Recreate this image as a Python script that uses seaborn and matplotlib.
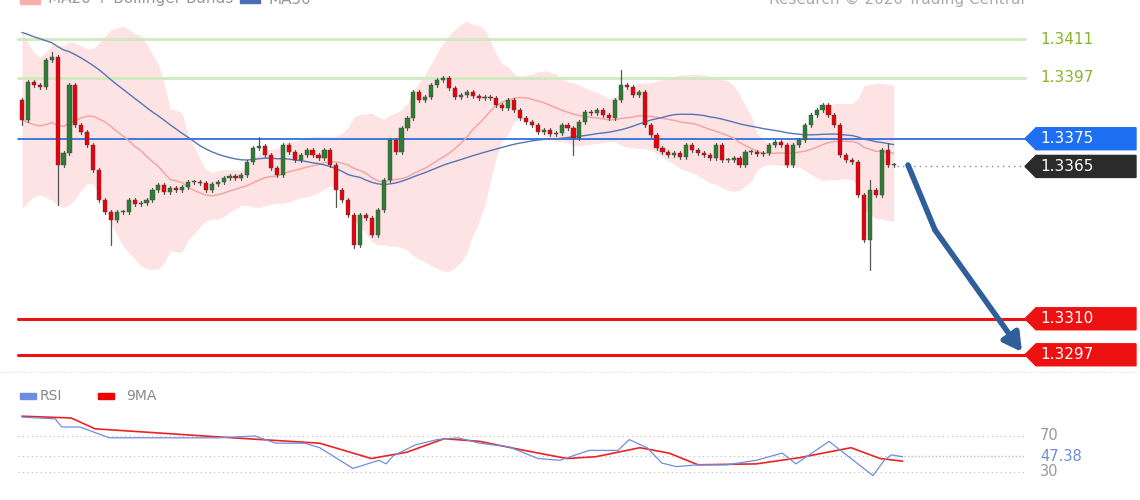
import numpy as np
import pandas as pd
import matplotlib
matplotlib.use("Agg")
import matplotlib.pyplot as plt
import seaborn as sns
from matplotlib.patches import Polygon

sns.set_theme(style="white")
plt.rcParams['font.family'] = ['DejaVu Sans']

# ---------------- data ----------------
first_open = 1.33890
closes = [1.33818,1.33955,1.33944,1.33937,1.34034,1.34045,1.33655,1.33698,1.33944,1.33800,
          1.33774,1.33727,1.33637,1.33529,1.33485,1.33457,1.33485,1.33485,1.33529,1.33514,
          1.33518,1.33529,1.33565,1.33583,1.33558,1.33572,1.33565,1.33576,1.33594,1.33594,
          1.33590,1.33565,1.33587,1.33594,1.33608,1.33615,1.33608,1.33619,1.33666,1.33717,
          1.33724,1.33691,1.33644,1.33619,1.33727,1.33702,1.33673,1.33691,1.33709,1.33691,
          1.33680,1.33709,1.33655,1.33565,1.33529,1.33475,1.33366,1.33475,1.33464,1.33402,
          1.33493,1.33601,1.33745,1.33702,1.33789,1.33825,1.33919,1.33890,1.33901,1.33944,
          1.33962,1.33969,1.33933,1.33901,1.33908,1.33919,1.33904,1.33897,1.33901,1.33897,
          1.33872,1.33861,1.33890,1.33854,1.33825,1.33810,1.33800,1.33774,1.33781,1.33767,
          1.33771,1.33800,1.33789,1.33753,1.33810,1.33846,1.33843,1.33854,1.33836,1.33825,
          1.33890,1.33944,1.33937,1.33908,1.33919,1.33800,1.33763,1.33717,1.33702,1.33691,
          1.33698,1.33684,1.33727,1.33709,1.33698,1.33691,1.33680,1.33727,1.33673,1.33673,
          1.33680,1.33655,1.33702,1.33702,1.33695,1.33698,1.33727,1.33738,1.33727,1.33655,
          1.33727,1.33745,1.33800,1.33836,1.33854,1.33872,1.33836,1.33800,1.33691,1.33673,
          1.33666,1.33547,1.33384,1.33565,1.33547,1.33709,1.33655,1.33655]
# earlier closes (before visible window) feeding the moving averages
prior_closes = [1.3432,1.3436,1.3430,1.3438,1.3440,1.3435,1.3431,1.3428,1.3434,1.3437,
                1.3439,1.3433,1.3429,1.3436,1.3440,1.3434,1.3430,1.3437,1.3435,1.3432,
                1.3438,1.3436,1.3431,1.3434,1.3439,1.3433,1.3435,1.3430,1.3436,1.3434,
                1.3415,1.3410,1.3402,1.3395,1.3390,1.3385,1.3378,1.3370,1.3362,1.3358,
                1.3360,1.3365,1.3372,1.3370,1.3378,1.3385,1.3380,1.3388,1.3392]
special_highs = {5: 1.34063, 40: 1.33756, 101: 1.33998, 143: 1.33601, 146: 1.33734}
special_lows = {0: 1.33800, 6: 1.33511, 15: 1.33366, 53: 1.33504, 56: 1.33355,
                93: 1.33691, 143: 1.33276}

levels_green = [1.3411, 1.3397]
level_blue = 1.3375
level_last = 1.3365
levels_red = [1.3310, 1.3297]

rsi_idx = [0,5.6,6.7,9.8,14.7,20.7,33.1,39.3,42.8,47.7,50.2,55.8,60.2,61.4,62.6,66.3,70.0,
           73.5,77.2,82.1,87.0,90.7,95.6,100.5,102.4,105.4,107.9,110.3,114.0,118.9,123.8,
           128.2,130.5,136.1,139.8,143.5,145.4,146.6,148.5]
rsi_val = [91,89,80,80,68,68,68,70,62,62,57,34,43,39,48,60,66,68,62,58,45,43,54,54,66,57,40,
           36,38,38,43,51,39,64,45,26,43,49,47]
ma9_idx = [0,8.3,12.3,33.1,50.2,58.9,64.9,71.2,77.2,84.7,91.9,96.8,104.2,109.1,114.0,123.8,
           131.2,139.8,144.7,148.5]
ma9_val = [92,90,78,69,62,45,52,67,64,54,45,47,57,51,38,39,46,57,45,42]
rsi_last = 47.38

# ---------------- prep ----------------
closes = np.array(closes)
n = len(closes)
opens = np.concatenate([[first_open], closes[:-1]])
wick = 0.00008
highs = np.maximum(opens, closes) + wick
lows = np.minimum(opens, closes) - wick
for k, v in special_highs.items():
    highs[k] = v
for k, v in special_lows.items():
    lows[k] = v
idx = np.arange(n)

full = pd.Series(np.concatenate([prior_closes, closes]))
m20 = full.rolling(20).mean().values[-n:]
sd20 = full.rolling(20).std().values[-n:]
m50 = full.rolling(50, min_periods=1).mean().values[-n:]
up, dn = m20 + 2 * sd20, m20 - 2 * sd20

W, H = 1140, 500
fig = plt.figure(figsize=(W / 100, H / 100), dpi=100)
fig.patch.set_facecolor("white")
x0, dx = 22, 5.93
def px(x):
    return (x - x0) / dx
xlim = (px(0), px(W))
ppp = 27700.0  # pixels per unit price
def py(y):
    return 1.3411 - (y - 39) / ppp

ax = fig.add_axes([0, 130 / H, 1, 370 / H])
ax.axis("off")

# bands & MAs
ax.fill_between(idx, dn, up, color="#fde3e3", lw=0, zorder=1)
sns.lineplot(x=idx, y=m20, ax=ax, color="#f4a0a0", lw=1, zorder=3)
sns.lineplot(x=idx, y=m50, ax=ax, color="#5574b8", lw=1, zorder=3)

# levels
L, R = px(18), px(1025)
for lv in levels_green:
    ax.plot([L, R], [lv, lv], color="#d2e8bf", lw=2, zorder=2)
    ax.text(px(1040), lv, f"{lv:.4f}", color="#86b42a", fontsize=11, va="center")
ax.plot([L, R], [level_blue, level_blue], color="#2d6fe0", lw=1.3, zorder=2)
for lv in levels_red:
    ax.plot([L, R], [lv, lv], color="#ee1111", lw=2.2, zorder=2)
ax.plot([n - 0.5, px(1028)], [level_last] * 2, color="#888888", lw=1, ls=(0, (1, 3)), zorder=2)

def tag(lv, color, txt_color="white"):
    h = 11 / ppp
    xa, xb, xc = px(1025), px(1036), px(1136)
    poly = Polygon([[xa, lv], [xb, lv + h], [xc, lv + h], [xc, lv - h], [xb, lv - h]],
                   closed=True, color=color, zorder=5)
    ax.add_patch(poly)
    ax.text(px(1040), lv, f"{lv:.4f}", color=txt_color, fontsize=11, va="center", zorder=6)
tag(level_blue, "#1f6ff2")
tag(level_last, "#2b2b2b")
for lv in levels_red:
    tag(lv, "#ee1111")

# candles
for i in range(n):
    col = "#2e7d32" if closes[i] >= opens[i] else "#e8000b"
    ax.plot([i, i], [lows[i], highs[i]], color="#555555", lw=0.9, zorder=4)
    lo, hi = min(opens[i], closes[i]), max(opens[i], closes[i])
    ax.bar(i, max(hi - lo, 0.00003), bottom=lo, width=0.7, color=col,
           edgecolor="#444444", linewidth=0.3, zorder=5)

# forecast arrow
ax.plot([px(908), px(935)], [py(165), py(230)], color="#2f5f9a", lw=4, solid_capstyle="round", zorder=6)
ax.annotate("", xy=(px(1022), py(352)), xytext=(px(935), py(230)),
            arrowprops=dict(arrowstyle="-|>,head_length=0.9,head_width=0.5", color="#2f5f9a",
                            lw=4, shrinkA=0, shrinkB=0), zorder=6)
ax.set_xlim(*xlim)
ax.set_ylim(py(370), py(0))

# header texts (clipped at top)
fig.patches.append(plt.Rectangle((20 / W, 1 - 4 / H), 20 / W, 8 / H, transform=fig.transFigure,
                                 color="#f6b0b0", clip_on=False))
fig.text(48 / W, 1 + 1 / H, "MA20 + Bollinger Bands", color="#999999", fontsize=11, va="center")
fig.patches.append(plt.Rectangle((240 / W, 1 - 3 / H), 20 / W, 6 / H, transform=fig.transFigure,
                                 color="#4a6fb5", clip_on=False))
fig.text(268 / W, 1 + 1 / H, "MA50", color="#999999", fontsize=11, va="center")
fig.text(1025 / W, 1 + 1 / H, "Research © 2020 Trading Central", color="#aaaaaa",
         fontsize=11, va="center", ha="right")

# ---------------- RSI panel ----------------
ax2 = fig.add_axes([0, 0, 1, 130 / H])
ax2.axis("off")
ax2.plot([px(0), px(W)], [30 + 100 / 0.9] * 2, color="#dddddd", lw=0.8, ls=(0, (1, 2)))
for lv in (70, 30):
    ax2.plot([L, R], [lv, lv], color="#bbbbbb", lw=0.8, ls=(0, (1, 3)))
    ax2.text(px(1040), lv, str(lv), color="#999999", fontsize=10.5, va="center")
ax2.plot([L, n - 0.5], [rsi_last] * 2, color="#bbbbbb", lw=0.8, ls=(0, (1, 3)))
ax2.plot([n - 0.5, R], [rsi_last] * 2, color="#a9bfe8", lw=1, ls=(0, (1, 1.5)))
ax2.text(px(1040), rsi_last, f"{rsi_last:.2f}", color="#6a8fd8", fontsize=10.5, va="center")
sns.lineplot(x=ma9_idx, y=ma9_val, ax=ax2, color="#ee2222", lw=1.2)
sns.lineplot(x=rsi_idx, y=rsi_val, ax=ax2, color="#6d8ee0", lw=0.9)
ax2.add_patch(plt.Rectangle((px(20), 30 + (472 - 399) / 0.9), px(36) - px(20), 6 / 0.9,
                            color="#6d8ee0", clip_on=False))
ax2.text(px(40), 30 + (472 - 396) / 0.9, "RSI", color="#888888", fontsize=10, va="center")
ax2.add_patch(plt.Rectangle((px(98), 30 + (472 - 399) / 0.9), px(114) - px(98), 6 / 0.9,
                            color="#ee0000", clip_on=False))
ax2.text(px(126), 30 + (472 - 396) / 0.9, "9MA", color="#888888", fontsize=10, va="center")
ax2.set_xlim(*xlim)
ax2.set_ylim(30 - 28 / 0.9, 30 + 102 / 0.9)

fig.savefig("out.png", dpi=100, facecolor="white")
